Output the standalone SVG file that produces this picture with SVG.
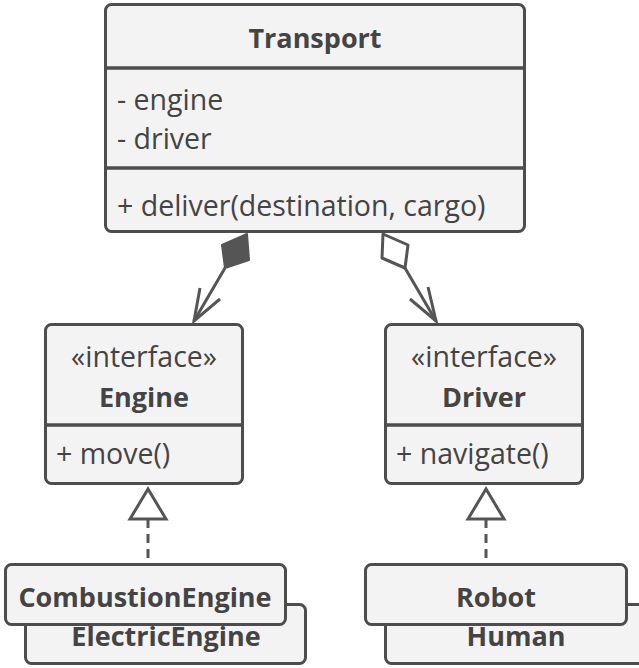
<svg xmlns="http://www.w3.org/2000/svg" width="639" height="668" viewBox="0 0 639 668">
<style>
.box{fill:#f3f3f3;stroke:#4d4d4d;stroke-width:3}
.div{stroke:#4d4d4d;stroke-width:3.5}
.t{font-family:"Open Sans","Liberation Sans",sans-serif;font-size:28.5px;fill:#444}
.b{font-weight:bold;font-size:27px}
.c{text-anchor:middle}
.conn{stroke:#555;stroke-width:3;fill:none}
</style>
<rect width="639" height="668" fill="#fff"/>
<g id="connectors">
<polygon points="247,234 222,245 225,268 249,260" fill="#555" stroke="#555" stroke-width="2" stroke-linejoin="round"/>
<line class="conn" x1="225" y1="268" x2="194" y2="321"/>
<polyline class="conn" points="200,288 194,321 220,299"/>
<polygon points="383,234 382,258 405,268 408,245" fill="#fff" stroke="#555" stroke-width="3" stroke-linejoin="round"/>
<line class="conn" x1="405" y1="268" x2="436" y2="321"/>
<polyline class="conn" points="428,287 436,321 410,299"/>
<polygon points="148,489 130,519 166,519" fill="#fff" stroke="#555" stroke-width="3"/>
<line class="conn" x1="148" y1="519" x2="148" y2="562" stroke-dasharray="9,6"/>
<polygon points="486,489 468,519 504,519" fill="#fff" stroke="#555" stroke-width="3"/>
<line class="conn" x1="486" y1="519" x2="486" y2="562" stroke-dasharray="9,6"/>
</g>
<g id="transport">
<rect class="box" x="105.5" y="4.5" width="419" height="227" rx="6"/>
<line class="div" x1="105" y1="68" x2="524" y2="68"/>
<line class="div" x1="105" y1="168" x2="524" y2="168"/>
<text class="t b c" x="315" y="48">Transport</text>
<text class="t" x="117" y="110">- engine</text>
<text class="t" x="117" y="149">- driver</text>
<text class="t" x="117" y="216">+ deliver(destination, cargo)</text>
</g>
<g id="engine">
<rect class="box" x="45.5" y="324.5" width="197" height="159" rx="6"/>
<line class="div" x1="45" y1="425" x2="243" y2="425"/>
<text class="t c" x="144" y="367">«interface»</text>
<text class="t b c" x="144" y="407">Engine</text>
<text class="t" x="56" y="464">+ move()</text>
</g>
<g id="driver">
<rect class="box" x="385.5" y="324.5" width="197" height="159" rx="6"/>
<line class="div" x1="385" y1="425" x2="583" y2="425"/>
<text class="t c" x="484" y="367">«interface»</text>
<text class="t b c" x="484" y="407">Driver</text>
<text class="t" x="396" y="464">+ navigate()</text>
</g>
<g id="electric-engine">
<rect class="box" x="25.5" y="604.5" width="280" height="59" rx="6"/>
<text class="t b c" x="166" y="646">ElectricEngine</text>
</g>
<g id="combustion-engine">
<rect class="box" x="5.5" y="564.5" width="280" height="60" rx="6"/>
<text class="t b c" x="145" y="607">CombustionEngine</text>
</g>
<g id="human">
<rect class="box" x="385.5" y="604.5" width="262" height="59" rx="6"/>
<text class="t b c" x="516" y="646">Human</text>
</g>
<g id="robot">
<rect class="box" x="365.5" y="564.5" width="261" height="60" rx="6"/>
<text class="t b c" x="496" y="607">Robot</text>
</g>
</svg>
